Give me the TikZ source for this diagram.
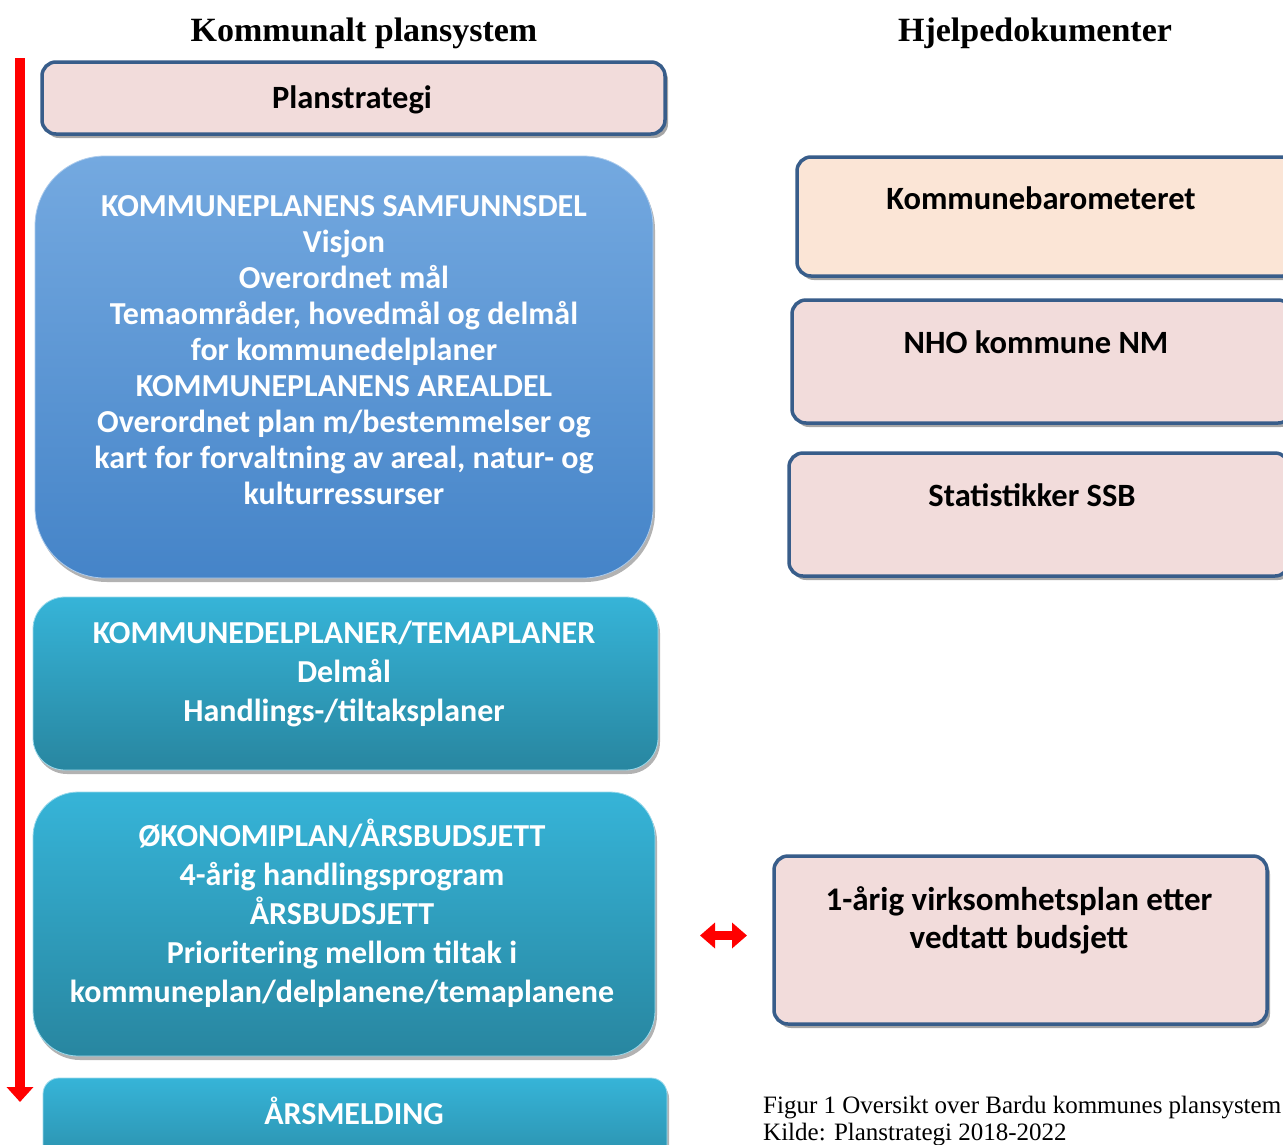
\documentclass[tikz,border=0pt]{standalone}
\usepackage{fontspec}
\setmainfont{Carlito}
\newfontfamily\capfont{Liberation Serif}
\usetikzlibrary{shadows,arrows.meta}
\definecolor{pinkfill}{HTML}{F2DCDB}
\definecolor{peachfill}{HTML}{FBE5D6}
\definecolor{navyline}{HTML}{385D8A}
\definecolor{bluetop}{HTML}{74A9E0}
\definecolor{bluebot}{HTML}{4584C8}
\definecolor{tealtop}{HTML}{36B4D8}
\definecolor{tealbot}{HTML}{2886A0}
\definecolor{arrowred}{HTML}{FF0000}
\tikzset{
  helpbox/.style={draw=navyline, line width=3.5pt, rounded corners=14pt, fill=pinkfill,
    drop shadow={shadow xshift=3pt, shadow yshift=-4pt, fill=black, opacity=0.35}},
  bluebox/.style={top color=bluetop, bottom color=bluebot, draw=bluetop!60!white, line width=0.8pt,
    drop shadow={shadow xshift=2pt, shadow yshift=-4pt, fill=black, opacity=0.3}},
  tealbox/.style={top color=tealtop, bottom color=tealbot, draw=tealtop!50!white, line width=0.8pt,
    drop shadow={shadow xshift=2pt, shadow yshift=-4pt, fill=black, opacity=0.3}},
  btext/.style={font=\fontsize{32}{36}\selectfont\bfseries, text=white, align=center},
  tltext/.style={font=\fontsize{32}{39}\selectfont\bfseries, text=white, align=center},
  dtext/.style={font=\fontsize{32.5}{38}\selectfont\bfseries, text=black, align=center},
  ttext/.style={font=\capfont\fontsize{34}{36}\selectfont\bfseries, text=black},
  captext/.style={font=\capfont\fontsize{25}{27}\selectfont, text=black, align=left, anchor=north west, inner sep=0pt},
}
\begin{document}
\begin{tikzpicture}[x=1pt,y=-1pt]
\clip (0,0) rectangle (1283,1144);
\fill[white] (0,0) rectangle (1283,1144);

% titles
\node[ttext] (t1) at (364,33) {Kommunalt plansystem};
\node[ttext] (t2) at (1035,33) {Hjelpedokumenter};

% left column boxes
\node[helpbox, minimum width=623pt, minimum height=72pt] (plan) at (353.5,98) {};
\node[dtext] (plantxt) at (352,100) {Planstrategi};

\node[bluebox, rounded corners=70pt, minimum width=618pt, minimum height=422pt] (samf) at (344,367) {};
\node[btext] (samftxt) at (344,350) {KOMMUNEPLANENS SAMFUNNSDEL\\Visjon\\Overordnet mål\\Temaområder, hovedmål og delmål\\for kommunedelplaner\\KOMMUNEPLANENS AREALDEL\\Overordnet plan m/bestemmelser og\\kart for forvaltning av areal, natur- og\\kulturressurser};

\node[tealbox, rounded corners=32pt, minimum width=625pt, minimum height=173pt] (delpl) at (345.5,683.5) {};
\node[tltext] (delpltxt) at (344,674) {KOMMUNEDELPLANER/TEMAPLANER\\Delmål\\Handlings-/tiltaksplaner};

\node[tealbox, rounded corners=45pt, minimum width=622pt, minimum height=264pt] (okon) at (344,924) {};
\node[tltext] (okontxt) at (342,913) {ØKONOMIPLAN/ÅRSBUDSJETT\\4-årig handlingsprogram\\ÅRSBUDSJETT\\Prioritering mellom tiltak i\\kommuneplan/delplanene/temaplanene};

\node[tealbox, rounded corners=16pt, minimum width=624pt, minimum height=110pt] (arsm) at (355,1133) {};
\node[tltext] (arsmtxt) at (354,1111) {ÅRSMELDING};

% right column boxes
\node[helpbox, fill=peachfill, minimum width=500pt, minimum height=119pt] (komb) at (1047,216.5) {};
\node[dtext] (kombtxt) at (1041,198) {Kommunebarometeret};

\node[helpbox, minimum width=500pt, minimum height=123pt] (nho) at (1042,361.5) {};
\node[dtext] (nhotxt) at (1036,342) {NHO kommune NM};

\node[helpbox, minimum width=500pt, minimum height=123pt] (ssb) at (1039,514.5) {};
\node[dtext] (ssbtxt) at (1032,495) {Statistikker SSB};

\node[helpbox, minimum width=493pt, minimum height=168pt] (virk) at (1020.5,940) {};
\node[dtext, font=\fontsize{33}{38}\selectfont\bfseries] (virktxt) at (1019,920) {1-årig virksomhetsplan etter\\vedtatt budsjett};

% arrows
\coordinate (rtop) at (20,58);
\coordinate (rbot) at (20,1102);
\draw[arrowred, line width=10pt, -{Triangle[width=26pt,length=15pt]}] (rtop) -- (rbot);

\coordinate (dl) at (700,935.5);
\coordinate (dr) at (747,935.5);
\draw[arrowred, line width=9pt, {Triangle[width=25pt,length=15pt]}-{Triangle[width=25pt,length=15pt]}] (dl) -- (dr);

% caption
\node[captext] (cap) at (763,1096) {Figur 1 Oversikt over Bardu kommunes plansystem\\Kilde: Planstrategi 2018-2022};
\end{tikzpicture}
\end{document}
